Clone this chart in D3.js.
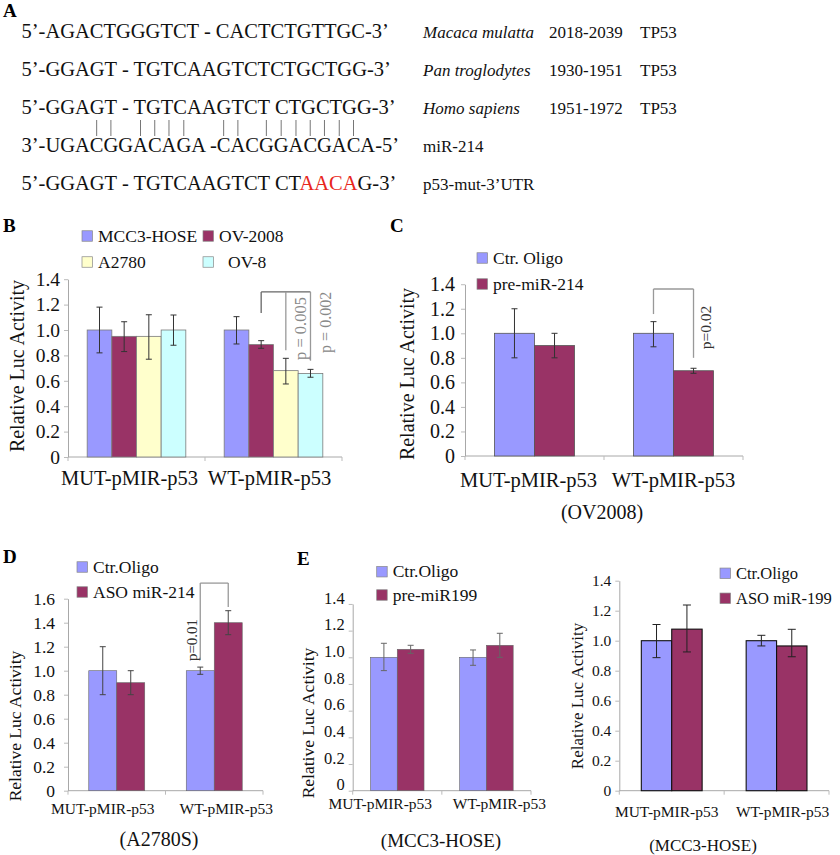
<!DOCTYPE html>
<html lang="en">
<head>
<meta charset="UTF-8">
<title>miR-214 and the p53 3'UTR</title>
<script src="https://d3js.org/d3.v7.min.js"></script>
<style>
  body { margin: 0; background: white; }
  svg { display: block; font-family: "Liberation Serif", "Times New Roman", serif; }
</style>
</head>
<body>
<div id="chart"></div>
<script>
// ---------- panel A: alignment ----------
const seqLines = [
  "5’-AGACTGGGTCT - CACTCTGTTGC-3’",
  "5’-GGAGT - TGTCAAGTCTCTGCTGG-3’",
  "5’-GGAGT - TGTCAAGTCT CTGCTGG-3’",
  "3’-UGACGGACAGA -CACGGACGACA-5’",
  "5’-GGAGT - TGTCAAGTCT CTAACAG-3’"
];
const seqNames = ["Macaca mulatta", "Pan troglodytes", "Homo sapiens", "miR-214", "p53-mut-3’UTR"];
const seqItalic = [true, true, true, false, false];
const seqRange = ["2018-2039", "1930-1951", "1951-1972", "", ""];
const seqGene = ["TP53", "TP53", "TP53", "", ""];
const mutSite = "AACA";
const mirRow = 3;
const pairIdx = [6, 7, 9, 10, 11, 12, 16, 17, 19, 20, 21, 22, 23, 24, 25];

// ---------- bar panels ----------
const groupsP53 = ["MUT-pMIR-p53", "WT-pMIR-p53"];

const seriesB = ["MCC3-HOSE", "OV-2008", "A2780", "OV-8"];
const meanB = [[1.00, 0.95, 0.95, 1.00], [1.00, 0.885, 0.68, 0.658]];
const lowB  = [[0.82, 0.83, 0.77, 0.88], [0.89, 0.856, 0.575, 0.628]];
const highB = [[1.18, 1.065, 1.12, 1.118], [1.105, 0.916, 0.777, 0.69]];
const pB = ["p = 0.005", "p = 0.002"];

const seriesC = ["Ctr. Oligo", "pre-miR-214"];
const meanC = [[1.00, 0.90], [1.00, 0.695]];
const lowC  = [[0.80, 0.80], [0.89, 0.674]];
const highC = [[1.20, 1.00], [1.095, 0.715]];
const pC = ["p=0.02"];

const seriesD = ["Ctr.Oligo", "ASO miR-214"];
const meanD = [[1.00, 0.90], [1.00, 1.40]];
const lowD  = [[0.80, 0.80], [0.97, 1.30]];
const highD = [[1.20, 1.00], [1.03, 1.50]];
const pD = ["p=0.01"];

const seriesE1 = ["Ctr.Oligo", "pre-miR199"];
const meanE1 = [[1.00, 1.06], [1.00, 1.09]];
const lowE1  = [[0.90, 1.03], [0.94, 1.00]];
const highE1 = [[1.105, 1.09], [1.055, 1.18]];

const seriesE2 = ["Ctr.Oligo", "ASO miR-199"];
const meanE2 = [[1.00, 1.077], [1.00, 0.965]];
const lowE2  = [[0.887, 0.925], [0.965, 0.893]];
const highE2 = [[1.108, 1.238], [1.036, 1.076]];

const colors = ["#9999ff", "#993366", "#ffffcc", "#ccffff"];

const svg = d3.select("#chart").append("svg")
    .attr("width", 840)
    .attr("height", 855);

// ---------- draw panel A ----------
const gA = svg.append("g");
gA.append("text").attr("x", 3).attr("y", 17)
    .attr("font-size", 19).attr("font-weight", "bold").text("A");

const rowY = d3.scaleLinear().domain([0, 4]).range([38, 190]);
let mirNode = null;
seqLines.forEach((s, i) => {
    const t = gA.append("text")
        .attr("x", 21.5).attr("y", rowY(i))
        .attr("font-size", 20.5).attr("fill", "#111");
    const k = i === 4 ? s.lastIndexOf(mutSite) : -1;
    if (k >= 0) {
        t.append("tspan").text(s.slice(0, k));
        t.append("tspan").attr("fill", "#e8271d").text(mutSite);
        t.append("tspan").text(s.slice(k + mutSite.length));
    } else {
        t.text(s);
    }
    if (i === mirRow) mirNode = t.node();

    gA.append("text").attr("x", 423).attr("y", rowY(i))
        .attr("font-size", 17).attr("fill", "#111")
        .attr("font-style", seqItalic[i] ? "italic" : null)
        .text(seqNames[i]);
    gA.append("text").attr("x", 549).attr("y", rowY(i))
        .attr("font-size", 17).attr("fill", "#111").text(seqRange[i]);
    gA.append("text").attr("x", 640).attr("y", rowY(i))
        .attr("font-size", 17).attr("fill", "#111").text(seqGene[i]);
});

// base-pair ticks above the miRNA
pairIdx.forEach(ci => {
    const p = mirNode.getStartPositionOfChar(ci).x + mirNode.getExtentOfChar(ci).width / 2;
    gA.append("line")
        .attr("x1", p).attr("x2", p)
        .attr("y1", rowY(mirRow) - 32).attr("y2", rowY(mirRow) - 16)
        .attr("stroke", "#666").attr("stroke-width", 0.9);
});

// ---------- bar panel helper ----------
function barPanel(p) {
    const g = svg.append("g");
    const n = p.series.length;
    const y = d3.scaleLinear().domain([0, p.yMax]).range([p.y0, p.y0 - p.yMax * p.ppu]);
    const x = d3.scaleBand().domain(p.groups).range([p.x0, p.x1]);
    const pad = n * (1 - p.fill) / (2 * p.fill);
    const xs = d3.scaleBand().domain(d3.range(n)).range([0, x.bandwidth()])
        .paddingInner(0).paddingOuter(pad);
    const cx = (gi, si) => x(p.groups[gi]) + xs(si) + xs.bandwidth() / 2;

    // y axis
    const yAxis = d3.axisLeft(y)
        .tickValues(d3.range(0, p.yMax + 1e-9, 0.2))
        .tickFormat(d => d < 1e-9 ? "0" : d3.format(".1f")(d))
        .tickSize(4).tickSizeOuter(0).tickPadding(p.tickPad);
    const ya = g.append("g").attr("transform", `translate(${p.x0},0)`).call(yAxis)
        .attr("font-family", null).attr("font-size", p.tickFont);
    ya.select(".domain").attr("stroke", "#a8a8a8");
    ya.selectAll(".tick line").attr("stroke", "#bbb");
    ya.selectAll(".tick text").attr("fill", "#111")
        .attr("transform", `translate(0,${p.tickShift})`);

    // x axis line with group separators
    g.append("line").attr("x1", p.x0).attr("x2", p.x1)
        .attr("y1", p.y0).attr("y2", p.y0).attr("stroke", "#a8a8a8");
    const seps = [p.x0].concat(p.groups.map(d => x(d) + x.bandwidth()));
    g.selectAll(".sep").data(seps).enter().append("line")
        .attr("x1", d => d).attr("x2", d => d)
        .attr("y1", p.y0).attr("y2", p.y0 + 4).attr("stroke", "#bbb");
    g.selectAll(".xl").data(p.groups).enter().append("text")
        .attr("x", (d, i) => x(d) + x.bandwidth() / 2 + p.xLabDx[i]).attr("y", p.xLabY)
        .attr("text-anchor", "middle").attr("font-size", p.xFont).attr("fill", "#111")
        .text(d => d);

    // bars + error bars
    p.mean.forEach((row, gi) => {
        row.forEach((v, si) => {
            g.append("rect")
                .attr("x", x(p.groups[gi]) + xs(si)).attr("width", xs.bandwidth())
                .attr("y", y(v)).attr("height", y(0) - y(v))
                .attr("fill", colors[si]).attr("stroke", p.stroke).attr("stroke-width", p.strokeW);
            const c = cx(gi, si), lo = y(p.low[gi][si]), hi = y(p.high[gi][si]);
            const eb = g.append("g").attr("stroke", p.errColor).attr("stroke-width", 1);
            eb.append("line").attr("x1", c).attr("x2", c).attr("y1", lo).attr("y2", hi);
            eb.append("line").attr("x1", c - p.cap).attr("x2", c + p.cap).attr("y1", lo).attr("y2", lo);
            eb.append("line").attr("x1", c - p.cap).attr("x2", c + p.cap).attr("y1", hi).attr("y2", hi);
        });
    });

    // y label
    g.append("text")
        .attr("transform", `translate(${p.yLab.x},${p.yLab.y}) rotate(-90)`)
        .attr("dy", "0.35em").attr("text-anchor", "middle")
        .attr("font-size", p.yLab.size).attr("fill", "#111")
        .text("Relative Luc Activity");

    // legend
    p.series.forEach((s, i) => {
        const lx = p.legend.x[i % p.legend.x.length];
        const ly = p.legend.y[Math.floor(i / p.legend.x.length)];
        g.append("rect").attr("x", lx).attr("y", ly - 5.25).attr("width", 10.5).attr("height", 10.5)
            .attr("fill", colors[i]).attr("stroke", "#888").attr("stroke-width", 0.7);
        g.append("text").attr("x", lx + 16 + (p.legend.dx ? p.legend.dx[i] : 0)).attr("y", ly)
            .attr("dy", "0.33em").attr("font-size", p.legend.size).attr("fill", "#111")
            .text(s);
    });

    // panel letter + subtitle
    g.append("text").attr("x", p.letter.x).attr("y", p.letter.y)
        .attr("font-size", 19).attr("font-weight", "bold").text(p.id);
    if (p.sub) {
        g.append("text").attr("x", p.sub.x).attr("y", p.sub.y)
            .attr("text-anchor", "middle").attr("font-size", p.sub.size).attr("fill", "#111")
            .text(p.sub.text);
    }

    // significance bracket
    if (p.bracket) {
        const b = p.bracket, top = y(b.top);
        const xsL = b.legs.map(l => cx(b.group, l.s));
        g.append("line").attr("x1", d3.min(xsL)).attr("x2", d3.max(xsL))
            .attr("y1", top).attr("y2", top)
            .attr("stroke", b.topColor).attr("stroke-width", 1.3);
        b.legs.forEach((l, i) => {
            g.append("line").attr("x1", xsL[i]).attr("x2", xsL[i])
                .attr("y1", top).attr("y2", y(l.end))
                .attr("stroke", l.color).attr("stroke-width", 1.3);
        });
        b.labels.forEach(l => {
            g.append("text")
                .attr("transform", `translate(${cx(b.group, l.s) + l.dx},${y(l.at)}) rotate(-90)`)
                .attr("dy", "0.35em").attr("text-anchor", "middle")
                .attr("font-size", l.size).attr("fill", l.color)
                .text(l.text);
        });
    }
}

barPanel({
    id: "B", groups: groupsP53, series: seriesB, mean: meanB, low: lowB, high: highB,
    yMax: 1.4, x0: 68, x1: 342, y0: 457, ppu: 127, fill: 0.72,
    tickFont: 19.5, tickPad: 4, tickShift: 0, xFont: 20.5, xLabY: 485, xLabDx: [-7, -4],
    stroke: "#7a7a7a", strokeW: 0.8, errColor: "#333", cap: 3,
    yLab: {x: 17, y: 366, size: 20},
    legend: {x: [82, 203], y: [236, 262], size: 17.5, dx: [0, 0, 0, 9]},
    letter: {x: 3, y: 232}, sub: null,
    bracket: {group: 1, top: 1.30, topColor: "#666",
        legs: [{s: 1, end: 1.134, color: "#666"}, {s: 2, end: 0.84, color: "#999"}, {s: 3, end: 0.758, color: "#999"}],
        labels: [{s: 2, dx: 14, at: 1.012, text: pB[0], size: 16.5, color: "#888"},
                 {s: 3, dx: 15, at: 1.06, text: pB[1], size: 16, color: "#888"}]}
});

barPanel({
    id: "C", groups: groupsP53, series: seriesC, mean: meanC, low: lowC, high: highC,
    yMax: 1.4, x0: 465, x1: 743, y0: 456, ppu: 122.7, fill: 0.576,
    tickFont: 20, tickPad: 6, tickShift: 0, xFont: 20.5, xLabY: 487, xLabDx: [-6, 0],
    stroke: "#555", strokeW: 0.8, errColor: "#333", cap: 3,
    yLab: {x: 407, y: 374, size: 20},
    legend: {x: [477], y: [258, 284], size: 17.5},
    letter: {x: 390, y: 232},
    sub: {x: 602, y: 519, size: 20, text: "(OV2008)"},
    bracket: {group: 1, top: 1.361, topColor: "#999",
        legs: [{s: 0, end: 1.157, color: "#999"}, {s: 1, end: 0.80, color: "#999"}],
        labels: [{s: 1, dx: 12, at: 1.047, text: pC[0], size: 15.5, color: "#333"}]}
});

barPanel({
    id: "D", groups: groupsP53, series: seriesD, mean: meanD, low: lowD, high: highD,
    yMax: 1.6, x0: 68, x1: 263, y0: 790.7, ppu: 120, fill: 0.574,
    tickFont: 17.5, tickPad: 9, tickShift: 0, xFont: 15.5, xLabY: 814, xLabDx: [-14, 12],
    stroke: "#666", strokeW: 0.6, errColor: "#444", cap: 3,
    yLab: {x: 15, y: 726, size: 17.5},
    legend: {x: [77], y: [567, 592], size: 17.5},
    letter: {x: 3, y: 563},
    sub: {x: 159, y: 846, size: 20, text: "(A2780S)"},
    bracket: {group: 1, top: 1.73, topColor: "#999",
        legs: [{s: 0, end: 1.09, color: "#999"}, {s: 1, end: 1.53, color: "#999"}],
        labels: [{s: 0, dx: -9, at: 1.256, text: pD[0], size: 15, color: "#333"}]}
});

barPanel({
    id: "E", groups: groupsP53, series: seriesE1, mean: meanE1, low: lowE1, high: highE1,
    yMax: 1.4, x0: 352.7, x1: 531, y0: 790.7, ppu: 133.4, fill: 0.6,
    tickFont: 16.5, tickPad: 4, tickShift: -6, xFont: 15.5, xLabY: 809, xLabDx: [-17, 13],
    stroke: "#666", strokeW: 0.6, errColor: "#666", cap: 3,
    yLab: {x: 308, y: 723, size: 17.5},
    legend: {x: [376.7], y: [571.7, 595], size: 17.5},
    letter: {x: 297, y: 565},
    sub: {x: 441, y: 847, size: 19, text: "(MCC3-HOSE)"},
    bracket: null
});

barPanel({
    id: "", groups: groupsP53, series: seriesE2, mean: meanE2, low: lowE2, high: highE2,
    yMax: 1.4, x0: 619.3, x1: 829, y0: 790.7, ppu: 150, fill: 0.58,
    tickFont: 15.5, tickPad: 4, tickShift: 0, xFont: 15.5, xLabY: 817, xLabDx: [-5, 6],
    stroke: "#111", strokeW: 1.1, errColor: "#222", cap: 4,
    yLab: {x: 577, y: 696, size: 17},
    legend: {x: [720], y: [573.3, 598.3], size: 16.5},
    letter: {x: 0, y: 0},
    sub: {x: 703, y: 851, size: 17, text: "(MCC3-HOSE)"},
    bracket: null
});
</script>
</body>
</html>
